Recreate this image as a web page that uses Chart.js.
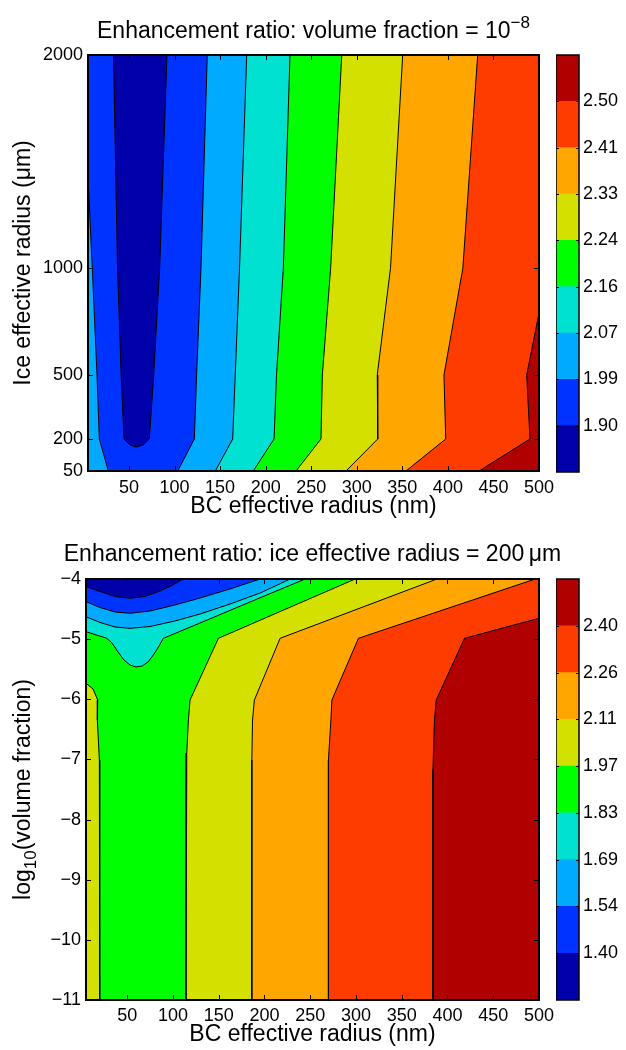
<!DOCTYPE html>
<html>
<head>
<meta charset="utf-8">
<script src="https://cdn.jsdelivr.net/npm/chart.js@4.4.1/dist/chart.umd.min.js"></script>
<style>
  html, body { margin: 0; padding: 0; background: #fff; }
  #wrap { position: relative; width: 626px; height: 1050px; }
  .box { position: absolute; }
</style>
</head>
<body>
<div id="wrap">
  <div class="box" style="left:0;top:0;width:626px;height:525px"><canvas id="topMap"></canvas></div>
  <div class="box" style="left:556px;top:0;width:70px;height:525px"><canvas id="topBar"></canvas></div>
  <div class="box" style="left:0;top:525px;width:626px;height:525px"><canvas id="botMap"></canvas></div>
  <div class="box" style="left:556px;top:525px;width:70px;height:525px"><canvas id="botBar"></canvas></div>
</div>
<script>
// contour levels and colours (jet, 9 bands)
const topLevels = ['1.90', '1.99', '2.07', '2.16', '2.24', '2.33', '2.41', '2.50'];
const botLevels = ['1.40', '1.54', '1.69', '1.83', '1.97', '2.11', '2.26', '2.40'];
const bandColors = ['#0000aa', '#0033ff', '#00aaff', '#00e1d2', '#00ff00', '#d4e000', '#ffa600', '#ff3c00', '#b00000'];

// axis ticks
const bcTicks = [50, 100, 150, 200, 250, 300, 350, 400, 450, 500];
const iceTicks = [50, 200, 500, 1000, 2000];
const logTicks = [-11, -10, -9, -8, -7, -6, -5, -4];

// top panel: contour lines, BC radius (nm) vs ice radius (um)
const iceRows = [2000, 1000, 500, 200, 50];
const top190x = [33.0, 37.4, 41.4, 44.5, 51.1, 57.7, 65.4, 72.3, 77.1, 83.6, 91.7];
const top190y = [2000, 1000, 500, 200, 172, 162, 172, 200, 500, 1000, 2000];
const top199Lx = [5, 9.7, 14.9, 17.4, 27.3];
const top199Ly = [1430, 1000, 500, 200, 50];
const top199x = [135.9, 129.0, 124.2, 121.7, 103.5];
const top207x = [179.2, 171.3, 166.6, 163.8, 144.7];
const top216x = [226.7, 219.4, 211.9, 209.2, 186.4];
const top224x = [283.5, 271.3, 262.2, 260.7, 233.3];
const top233x = [350.4, 337.0, 322.5, 323.0, 288.2];
const top241x = [432.7, 416.4, 395.7, 397.6, 354.0];
const top250x = [500, 486.5, 490.1, 434.2];
const top250y = [790, 500, 200, 50];

// bottom panel: contour lines, BC radius (nm) vs log10(volume fraction)
const bot140x = [5, 20.3, 36.7, 53.1, 69.5, 85.9, 99.0, 111.1];
const bot140y = [-4.128, -4.208, -4.291, -4.321, -4.291, -4.200, -4.108, -4];
const bot154x = [5, 20.3, 36.7, 53.1, 75.0, 102.3, 129.6, 162.4, 195.3];
const bot154y = [-4.377, -4.474, -4.549, -4.570, -4.532, -4.432, -4.316, -4.166, -4];
const bot169x = [5, 20.3, 36.7, 53.1, 75.0, 102.3, 129.6, 162.4, 195.3, 228.1];
const bot169y = [-4.627, -4.723, -4.798, -4.820, -4.790, -4.698, -4.582, -4.416, -4.233, -4];
const bot183x = [5, 27.6, 33.4, 40.0, 46.5, 53.1, 59.7, 66.2, 72.8, 79.4, 84.8, 89.5, 129.6, 184.3, 244.5];
const bot183y = [-4.876, -4.986, -5.064, -5.214, -5.347, -5.430, -5.463, -5.447, -5.380, -5.247, -5.114, -4.986, -4.732, -4.382, -4];
const bot197Lx = [5, 12.7, 17.8, 17.4, 19.6, 20.0];
const bot197Ly = [-5.734, -5.829, -6.012, -6.345, -7.010, -11];
const bot197x = [299.1, 149.7, 118.7, 116.9, 115.1, 114.3];
const bot197y = [-4, -4.986, -6.012, -6.345, -6.894, -11];
const bot211x = [388.5, 217.1, 189.0, 187.0, 186.2, 186.2];
const bot211y = [-4, -4.986, -6.012, -6.345, -7.010, -11];
const bot226x = [495.9, 302.7, 273.7, 272.6, 269.9, 269.9];
const bot226y = [-4, -4.986, -6.012, -6.345, -7.010, -11];
const bot240x = [500, 418.6, 387.7, 385.8, 384.1, 384.1];
const bot240y = [-4.653, -4.986, -6.012, -6.345, -7.176, -11];

const FONT = "'Liberation Sans', Arial, Helvetica, sans-serif";
Chart.defaults.font.family = FONT;
Chart.defaults.color = '#000';

const toPts = (xs, ys) => xs.map((x, i) => ({x: x, y: ys[i]}));

function region(points, color, stroke) {
  return {
    data: points,
    backgroundColor: color,
    borderColor: '#000',
    borderWidth: stroke === false ? 0 : 1,
    showLine: true,
    pointRadius: 0,
    pointHoverRadius: 0,
    fill: false,
    tension: 0
  };
}

// fills every dataset as a closed polygon before its outline is drawn
const polyFill = {
  id: 'polyFill',
  beforeDatasetDraw(chart, args) {
    const ds = chart.data.datasets[args.index];
    const pts = args.meta.data;
    if (!pts.length) return;
    const {ctx, chartArea: a} = chart;
    ctx.save();
    ctx.beginPath();
    ctx.rect(a.left, a.top, a.right - a.left, a.bottom - a.top);
    ctx.clip();
    ctx.beginPath();
    pts.forEach((p, i) => i ? ctx.lineTo(p.x, p.y) : ctx.moveTo(p.x, p.y));
    ctx.closePath();
    ctx.fillStyle = ds.backgroundColor;
    ctx.fill();
    ctx.restore();
  }
};

// matlab style box with inward ticks on all sides
const boxTicks = {
  id: 'boxTicks',
  afterDatasetsDraw(chart, args, opts) {
    const {ctx, chartArea: a, scales} = chart;
    const len = opts.len || 5;
    ctx.save();
    ctx.strokeStyle = '#000';
    ctx.lineWidth = 1;
    ctx.beginPath();
    if (opts.xTicks) {
      scales.x.ticks.forEach(t => {
        const p = Math.round(scales.x.getPixelForValue(t.value)) + 0.5;
        ctx.moveTo(p, a.bottom); ctx.lineTo(p, a.bottom - len);
        ctx.moveTo(p, a.top); ctx.lineTo(p, a.top + len);
      });
    }
    scales.y.ticks.forEach(t => {
      const p = Math.round(scales.y.getPixelForValue(t.value)) + 0.5;
      ctx.moveTo(a.left, p); ctx.lineTo(a.left + len, p);
      ctx.moveTo(a.right, p); ctx.lineTo(a.right - len, p);
    });
    ctx.stroke();
    ctx.lineWidth = opts.frame || 2;
    ctx.strokeRect(a.left, a.top, a.right - a.left, a.bottom - a.top);
    ctx.restore();
  }
};

// text with super/subscripts: parts = [[text, shift]], shift<0 raises, >0 lowers
function drawRich(ctx, parts, x, y, rotate) {
  const big = '23px ' + FONT, small = '17px ' + FONT;
  let w = 0;
  parts.forEach(p => { ctx.font = p[1] ? small : big; w += ctx.measureText(p[0]).width; });
  ctx.save();
  ctx.translate(x, y);
  if (rotate) ctx.rotate(-Math.PI / 2);
  ctx.fillStyle = '#000';
  ctx.textBaseline = 'alphabetic';
  ctx.textAlign = 'left';
  let cx = -w / 2;
  parts.forEach(p => {
    ctx.font = p[1] ? small : big;
    ctx.fillText(p[0], cx, p[1]);
    cx += ctx.measureText(p[0]).width;
  });
  ctx.restore();
}

const richText = {
  id: 'richText',
  afterDraw(chart, args, opts) {
    const {ctx, chartArea: a} = chart;
    drawRich(ctx, opts.title, (a.left + a.right) / 2, opts.titleY, false);
    if (opts.yTitle) drawRich(ctx, opts.yTitle, opts.yTitleX, (a.top + a.bottom) / 2, true);
  }
};

const minus = v => v < 0 ? '\u2212' + Math.abs(v) : String(v);

function mapChart(id, cfg) {
  const sets = cfg.sets;
  sets.forEach((d, i) => { d.order = -i; });
  return new Chart(document.getElementById(id), {
    type: 'scatter',
    data: {datasets: sets},
    plugins: [polyFill, boxTicks, richText],
    options: {
      responsive: true,
      maintainAspectRatio: false,
      animation: false,
      events: [],
      layout: {padding: {left: 0, right: 87, top: cfg.top, bottom: 0}},
      plugins: {
        legend: {display: false},
        tooltip: {enabled: false},
        title: {display: false},
        boxTicks: {len: 5, xTicks: true, frame: 2},
        richText: {title: cfg.title, titleY: cfg.titleY, yTitle: cfg.yRich, yTitleX: cfg.yRichX}
      },
      scales: {
        x: {
          type: 'linear', min: 5, max: 500,
          afterBuildTicks: s => { s.ticks = bcTicks.map(v => ({value: v})); },
          afterFit: s => { s.height = cfg.xHeight; },
          grid: {display: false, drawTicks: false},
          border: {display: false},
          ticks: {font: {size: 18}, color: '#000', padding: cfg.xTickPad, maxRotation: 0, autoSkip: false},
          title: {display: true, text: 'BC effective radius (nm)', color: '#000', font: {size: 23}, padding: {top: 0, bottom: cfg.xTitlePad}}
        },
        y: {
          type: 'linear', min: cfg.yMin, max: cfg.yMax,
          afterBuildTicks: s => { s.ticks = cfg.yTicks.map(v => ({value: v})); },
          afterFit: s => { s.width = cfg.yWidth; },
          grid: {display: false, drawTicks: false},
          border: {display: false},
          ticks: {font: {size: 18}, color: '#000', padding: 5, autoSkip: false, callback: minus},
          title: {display: !!cfg.yTitle, text: cfg.yTitle || '', color: '#000', font: {size: 23}, padding: {top: cfg.yTitlePad || 0, bottom: 0}}
        }
      }
    }
  });
}

function barChart(id, levels, padTop, padBottom) {
  return new Chart(document.getElementById(id), {
    type: 'bar',
    data: {
      labels: [''],
      datasets: bandColors.map(c => ({data: [1], backgroundColor: c, borderWidth: 0, barPercentage: 1, categoryPercentage: 1}))
    },
    plugins: [boxTicks],
    options: {
      responsive: true,
      maintainAspectRatio: false,
      animation: false,
      events: [],
      layout: {padding: {left: 0, right: 0, top: padTop, bottom: padBottom}},
      plugins: {
        legend: {display: false},
        tooltip: {enabled: false},
        boxTicks: {len: 3, xTicks: false, frame: 1.5}
      },
      scales: {
        x: {stacked: true, display: false},
        y: {
          stacked: true, min: 0, max: levels.length + 1, position: 'right',
          afterBuildTicks: s => { s.ticks = levels.map((l, i) => ({value: i + 1})); },
          afterFit: s => { s.width = 47; },
          grid: {display: false, drawTicks: false},
          border: {display: false},
          ticks: {font: {size: 18}, color: '#000', padding: 4, autoSkip: false, callback: v => levels[v - 1]}
        }
      }
    }
  });
}

// top panel regions, painted bottom to top
const tCornersR = [{x: 500, y: 50}, {x: 500, y: 2000}];
const topSets = [
  region([{x: 5, y: 50}, {x: 5, y: 2000}, {x: 500, y: 2000}, {x: 500, y: 50}], bandColors[1], false),
  region(toPts(top190x, top190y), bandColors[0]),
  region(toPts(top199Lx, top199Ly).concat([{x: 5, y: 50}]), bandColors[2])
];
[top199x, top207x, top216x, top224x, top233x, top241x].forEach((xs, k) => {
  topSets.push(region(toPts(xs, iceRows).concat(tCornersR), bandColors[k + 2]));
});
topSets.push(region(toPts(top250x, top250y).concat([{x: 500, y: 50}]), bandColors[8]));

// bottom panel regions
const bCornersR = [{x: 500, y: -11}, {x: 500, y: -4}];
const botSets = [
  region([{x: 5, y: -11}, {x: 5, y: -4}, {x: 500, y: -4}, {x: 500, y: -11}], bandColors[4], false),
  region(toPts(bot197Lx, bot197Ly).concat([{x: 5, y: -11}]), bandColors[5]),
  region(toPts(bot197x, bot197y).concat(bCornersR), bandColors[5]),
  region(toPts(bot211x, bot211y).concat(bCornersR), bandColors[6]),
  region(toPts(bot226x, bot226y).concat(bCornersR), bandColors[7]),
  region(toPts(bot240x, bot240y).concat([{x: 500, y: -11}]), bandColors[8]),
  region(toPts(bot183x, bot183y).concat([{x: 5, y: -4}]), bandColors[3]),
  region(toPts(bot169x, bot169y).concat([{x: 5, y: -4}]), bandColors[2]),
  region(toPts(bot154x, bot154y).concat([{x: 5, y: -4}]), bandColors[1]),
  region(toPts(bot140x, bot140y).concat([{x: 5, y: -4}]), bandColors[0])
];

mapChart('topMap', {
  sets: topSets, top: 55,
  title: [['Enhancement ratio: volume fraction = 10', 0], ['\u22128', -10]],
  titleY: 38,
  yMin: 50, yMax: 2000, yTicks: iceTicks,
  yTitle: 'Ice effective radius (\u03BCm)', yTitlePad: 9.5, yWidth: 88,
  xHeight: 54, xTickPad: 6, xTitlePad: 4.5
});
barChart('topBar', topLevels, 55, 53);

mapChart('botMap', {
  sets: botSets, top: 54,
  title: [['Enhancement ratio: ice effective radius = 200\u2009\u03BCm', 0]],
  titleY: 36,
  yMin: -11, yMax: -4, yTicks: logTicks,
  yRich: [['log', 0], ['10', 6], ['(volume fraction)', 0]], yRichX: 30,
  yWidth: 86,
  xHeight: 50, xTickPad: 5.7, xTitlePad: 1.5
});
barChart('botBar', botLevels, 54, 50);
</script>
</body>
</html>
